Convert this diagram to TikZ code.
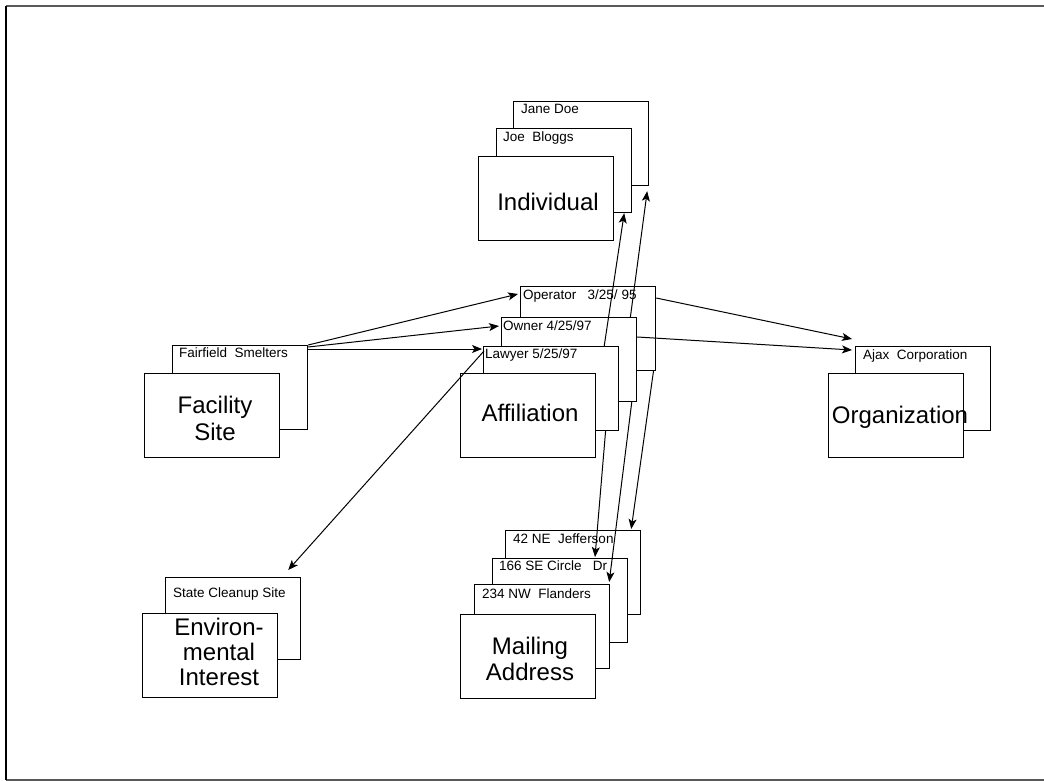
\documentclass[tikz,border=0pt]{standalone}
\usepackage{fontspec}
\setmainfont{Liberation Sans}
\usetikzlibrary{arrows.meta, positioning, calc}

\begin{document}
\begin{tikzpicture}[x=1pt, y=-1pt,
  card/.style={draw, fill=white, line width=1.2pt, minimum width=135pt,
               minimum height=84pt, inner sep=0pt, anchor=north west},
  tag/.style={font=\fontsize{13.5}{15}\selectfont, anchor=base west, inner sep=0pt},
  title/.style={font=\fontsize{24}{26}\selectfont, align=center, anchor=base, inner sep=0pt},
  link/.style={line width=1pt, -{Stealth[length=10pt, width=8pt, inset=2.5pt]}}]
  \useasboundingbox (0,0) rectangle (1044,781);

  % Rahmen
  \draw[gray!70!black, line width=1.4pt] (6,6) -- (1046,6);
  \draw[gray!70!black, line width=1.4pt] (6,780) -- (1046,780);
  \draw[line width=1.4pt] (6,6) -- (6,780);

  % Individual
  \node[card] (jane) at (513,101) {};
  \node[tag] (tjane) at (521,114) {Jane Doe};
  \node[card] (joe) at (496,128) {};
  \node[tag] (tjoe) at (503,142) {Joe~~Bloggs};
  \node[card] (indiv) at (478,156) {};
  \node[title] (tindiv) at (548,210) {Individual};

  % Affiliation
  \node[card] (operator) at (520,286) {};
  \node[tag] (toperator) at (523,299) {Operator~~~3/25/~95};
  \node[card] (owner) at (501,317) {};
  \node[tag] (towner) at (503,330) {Owner 4/25/97};
  \node[card] (lawyer) at (483,346) {};
  \node[tag] (tlawyer) at (485,358) {Lawyer 5/25/97};
  \node[card] (affil) at (460,373) {};
  \node[title] (taffil) at (530,421) {Affiliation};

  % Facility Site
  \node[card] (fairfield) at (172,345) {};
  \node[tag] (tfairfield) at (179,357) {Fairfield~~Smelters};
  \node[card] (facility) at (144,373) {};
  \node[title, anchor=north, font=\fontsize{24}{27}\selectfont] (tfacility) at (215,395.5) {Facility\\Site};

  % Organization
  \node[card] (ajax) at (855,346) {};
  \node[tag] (tajax) at (863,359) {Ajax~~Corporation};
  \node[card] (org) at (828,373) {};
  \node[title] (torg) at (900,423) {Organization};

  % Environmental Interest
  \node[card, minimum height=82pt] (cleanup) at (165,577) {};
  \node[tag] (tcleanup) at (173,597) {State Cleanup Site};
  \node[card] (env) at (142,613) {};
  \node[title, anchor=north, font=\fontsize{24}{25}\selectfont] (tenv) at (219,618) {Environ-\\mental\\Interest};

  % Mailing Address
  \node[card] (jefferson) at (505,530) {};
  \node[tag] (tjefferson) at (513,543) {42~NE~~Jefferson};
  \node[card] (circle) at (492,558) {};
  \node[tag] (tcircle) at (499,570) {166 SE Circle~~~Dr};
  \node[card] (flanders) at (474,584) {};
  \node[tag] (tflanders) at (482,598) {234 NW~~Flanders};
  \node[card] (mail) at (460,614) {};
  \node[title, anchor=north] (tmail) at (530,636.5) {Mailing\\Address};

  % Facility -> Affiliation
  \draw[link] (fairfield.north east) -- ($(operator.north west)+(-2,8)$);
  \draw[link] ($(fairfield.north east)+(0,2)$) -- ($(owner.north west)+(-2,9)$);
  \draw[link] ($(fairfield.north east)+(0,4)$) -- ($(lawyer.north west)+(-1,3)$);

  % Affiliation -> Environmental Interest
  \draw[link] ($(lawyer.north west)+(1,5)$) -- ($(cleanup.north east)+(-13,-7)$);

  % Affiliation -> Organization
  \draw[link] ($(operator.north east)+(0,12)$) -- ($(ajax.north west)+(-3,-7)$);
  \draw[link] ($(owner.north east)+(0,20)$) -- ($(ajax.north west)+(-3,4)$);

  % Affiliation -> Individual
  \draw[link] ($(lawyer.north west)!.89!(lawyer.north east)$) -- ($(joe.south east)+(-8,0)$);
  \draw[link] ($(owner.north west)!.95!(owner.north east)$) -- ($(jane.south east)+(-2,5)$);

  % Affiliation -> Mailing Address
  \draw[link] ($(lawyer.south west)!.9!(lawyer.south east)$) -- ($(circle.north west)+(103,-1)$);
  \draw[link] ($(owner.south west)!.96!(owner.south east)$) -- ($(flanders.north east)+(-1,-2)$);
  \draw[link] ($(operator.south west)!.98!(operator.south east)$) -- ($(jefferson.north east)+(-10,-1)$);
\end{tikzpicture}
\end{document}
